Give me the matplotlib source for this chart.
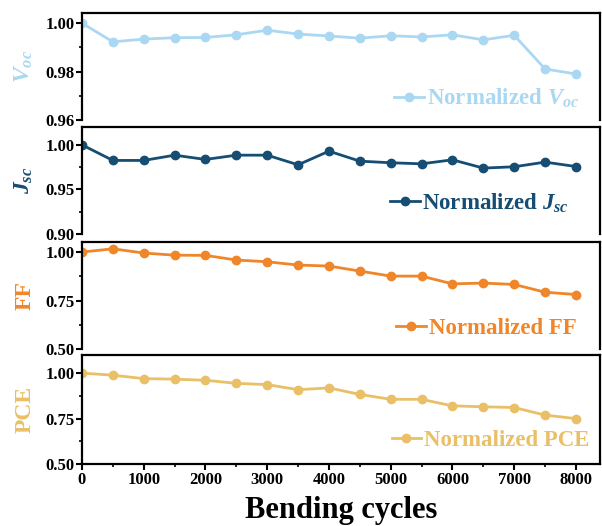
import numpy as np
import matplotlib
matplotlib.use('Agg')
import matplotlib.pyplot as plt
from matplotlib.ticker import MultipleLocator

plt.rcParams['font.family'] = ['Liberation Serif', 'DejaVu Serif']
plt.rcParams['font.weight'] = 'bold'
plt.rcParams['mathtext.fontset'] = 'custom'
plt.rcParams['mathtext.rm'] = 'Liberation Serif:bold'
plt.rcParams['mathtext.it'] = 'Liberation Serif:bold:italic'
plt.rcParams['mathtext.bf'] = 'Liberation Serif:bold'

# data
cycles = [0, 500, 1000, 1500, 2000, 2500, 3000, 3500, 4000, 4500,
          5000, 5500, 6000, 6500, 7000, 7500, 8000]
voc = [1.000, 0.9923, 0.9934, 0.9940, 0.9941, 0.9952, 0.9971, 0.9955, 0.9947,
       0.9938, 0.9948, 0.9943, 0.9952, 0.9931, 0.9950, 0.9811, 0.9790]
jsc = [1.000, 0.9825, 0.9825, 0.9884, 0.9836, 0.9884, 0.9884, 0.9776, 0.9929,
       0.9817, 0.9799, 0.9787, 0.9832, 0.9739, 0.9754, 0.9806, 0.9757]
ff = [1.000, 1.017, 0.995, 0.984, 0.983, 0.959, 0.950, 0.933, 0.928,
      0.902, 0.876, 0.876, 0.836, 0.840, 0.833, 0.793, 0.781]
pce = [1.000, 0.989, 0.970, 0.967, 0.961, 0.944, 0.937, 0.909, 0.919,
       0.883, 0.856, 0.856, 0.820, 0.815, 0.811, 0.769, 0.750]

series = [voc, jsc, ff, pce]
colors = ['#aad8f2', '#164d72', '#f0862a', '#e9bf68']
ylabels = [r'$V_{oc}$', r'$J_{sc}$', 'FF', 'PCE']
labels = [r'Normalized $V_{oc}$', r'Normalized $J_{sc}$', 'Normalized FF', 'Normalized PCE']
ylims = [(0.96, 1.0042), (0.90, 1.02), (0.50, 1.052), (0.50, 1.10)]
yticks = [[0.96, 0.98, 1.00], [0.90, 0.95, 1.00], [0.50, 0.75, 1.00], [0.50, 0.75, 1.00]]
yminor = [0.01, 0.025, 0.125, 0.125]

# panel boxes in pixels (top, bottom)
W, H = 602, 526
boxes = [(13, 120), (127, 234), (242, 349), (355, 464)]
left, right = 82, 600
leg_anchor = [(0.99, -0.055), (0.97, 0.03), (0.985, -0.055), (1.01, -0.03)]

fig = plt.figure(figsize=(W / 100, H / 100), dpi=100)
axes = []
for i in range(4):
    top, bot = boxes[i]
    ax = fig.add_axes([left / W, 1 - bot / H, (right - left) / W, (bot - top) / H])
    axes.append(ax)
    ax.plot(cycles, series[i], '-o', color=colors[i], lw=2, ms=6,
            mec=colors[i], mfc=colors[i], label=labels[i])
    ax.set_xlim(0, 8390)
    ax.set_ylim(*ylims[i])
    ax.set_yticks(yticks[i])
    ax.set_yticklabels(['%.2f' % v for v in yticks[i]])
    ax.yaxis.set_minor_locator(MultipleLocator(yminor[i]))
    ax.xaxis.set_major_locator(MultipleLocator(1000))
    ax.xaxis.set_minor_locator(MultipleLocator(500))
    for s in ax.spines.values():
        s.set_linewidth(1.6)
    ax.tick_params(axis='both', which='major', direction='out', length=4, width=1.5,
                   labelsize=12, pad=1.5)
    ax.tick_params(axis='both', which='minor', direction='out', length=2, width=1.2)
    ax.set_ylabel(ylabels[i], color=colors[i], fontsize=17, fontweight='bold')
    ax.yaxis.set_label_coords(-0.09, 0.5)
    ax.legend(loc='lower right', bbox_to_anchor=leg_anchor[i], frameon=False,
              fontsize=16.5, handlelength=1.3, handletextpad=0.1, labelcolor=colors[i],
              borderaxespad=0.3)
    if i < 3:
        ax.spines['bottom'].set_visible(False)
        ax.tick_params(axis='x', which='both', bottom=False, labelbottom=False)

axes[-1].set_xlabel('Bending cycles', fontsize=22, fontweight='bold', labelpad=6)

fig.savefig('out.png', dpi=100, facecolor='white')
